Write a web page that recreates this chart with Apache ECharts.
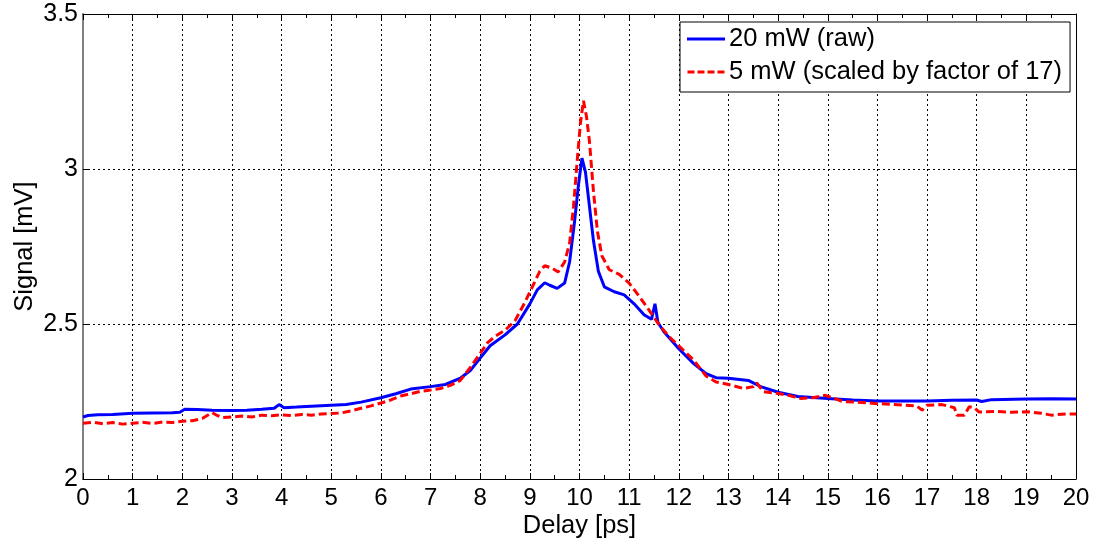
<!DOCTYPE html>
<html><head><meta charset="utf-8">
<script src="https://cdn.jsdelivr.net/npm/echarts@6/dist/echarts.min.js"></script>
<style>html,body{margin:0;padding:0;background:#fff}#c{width:1096px;height:541px}</style>
</head><body><div id="c"></div>
<script>
const xTicks = [0,1,2,3,4,5,6,7,8,9,10,11,12,13,14,15,16,17,18,19,20];
const yTicks = [2, 2.5, 3, 3.5];
const seriesNames = ['20 mW (raw)', '5 mW (scaled by factor of 17)'];

const delay20 = [0,0.1,0.3,0.6,1.0,1.4,1.8,1.95,2.05,2.3,2.6,3.0,3.3,3.6,3.85,3.95,4.05,4.3,4.6,5.0,5.3,5.6,6.0,6.3,6.6,7.0,7.3,7.6,7.8,8.0,8.2,8.5,8.75,9.0,9.15,9.3,9.4,9.55,9.7,9.8,9.9,9.98,10.05,10.12,10.2,10.28,10.38,10.5,10.7,10.9,11.1,11.3,11.45,11.52,11.58,11.7,12.0,12.3,12.55,12.75,13.0,13.4,13.65,14.0,14.4,15.0,15.5,16.0,16.5,17.0,17.5,18.0,18.1,18.3,19.0,19.5,20.0];
const signal20 = [2.200,2.205,2.207,2.208,2.212,2.213,2.214,2.215,2.225,2.224,2.222,2.221,2.222,2.225,2.228,2.240,2.230,2.232,2.235,2.238,2.240,2.248,2.262,2.275,2.290,2.298,2.305,2.325,2.350,2.390,2.430,2.465,2.500,2.565,2.610,2.633,2.625,2.615,2.632,2.700,2.830,2.950,3.035,2.990,2.880,2.770,2.670,2.620,2.604,2.594,2.565,2.530,2.515,2.565,2.505,2.475,2.420,2.372,2.340,2.327,2.325,2.318,2.298,2.280,2.266,2.260,2.255,2.252,2.252,2.252,2.254,2.255,2.250,2.256,2.258,2.259,2.258];

const delay5 = [0,0.2,0.4,0.6,0.8,1.0,1.2,1.4,1.6,1.8,2.0,2.2,2.4,2.6,2.7,2.8,3.0,3.2,3.4,3.6,3.8,4.0,4.2,4.4,4.6,4.8,5.0,5.2,5.4,5.6,5.8,6.0,6.2,6.4,6.6,6.8,7.0,7.2,7.4,7.6,7.8,8.0,8.15,8.3,8.5,8.7,8.9,9.05,9.2,9.3,9.45,9.57,9.7,9.8,9.88,9.95,10.02,10.08,10.14,10.2,10.28,10.36,10.45,10.6,10.8,11.0,11.2,11.4,11.6,11.8,12.0,12.3,12.55,12.75,13.0,13.3,13.5,13.57,13.7,14.0,14.2,14.45,14.7,14.95,15.1,15.3,15.6,16.0,16.3,16.5,16.8,16.9,17.0,17.3,17.55,17.6,17.75,17.85,17.95,18.05,18.4,18.7,19.0,19.3,19.5,19.8,20.0];
const signal5 = [2.180,2.183,2.178,2.182,2.177,2.180,2.183,2.179,2.184,2.182,2.186,2.188,2.195,2.214,2.205,2.198,2.200,2.203,2.200,2.206,2.204,2.207,2.205,2.208,2.206,2.210,2.211,2.213,2.220,2.228,2.236,2.245,2.255,2.268,2.275,2.283,2.287,2.292,2.302,2.318,2.360,2.405,2.440,2.460,2.480,2.510,2.570,2.620,2.670,2.688,2.680,2.668,2.700,2.760,2.880,3.020,3.150,3.220,3.170,3.090,2.930,2.800,2.720,2.675,2.660,2.632,2.590,2.545,2.498,2.460,2.430,2.383,2.332,2.313,2.305,2.292,2.298,2.310,2.282,2.276,2.270,2.260,2.262,2.270,2.262,2.250,2.248,2.243,2.241,2.239,2.235,2.222,2.238,2.240,2.230,2.206,2.206,2.233,2.230,2.216,2.218,2.215,2.217,2.212,2.206,2.210,2.210];

const pairs = (xs, ys) => xs.map((x, i) => [x, ys[i]]);
const FONT = 'Liberation Sans, Arial, sans-serif';
const chart = echarts.init(document.getElementById('c'), null, {renderer: 'canvas'});
const gridLine = {show: true, lineStyle: {color: '#000', type: [2, 3], width: 1}};
const solidIcon = 'path://M0,0H38V3H0Z';
const dashIcon = 'path://M0,0H7V3H0Z M10,0H17V3H10Z M20,0H27V3H20Z M30,0H37V3H30Z';
chart.setOption({
  animation: false,
  backgroundColor: '#fff',
  grid: {left: 83, right: 20, top: 14, bottom: 62, containLabel: false, outerBoundsMode: 'none'},
  legend: {
    orient: 'vertical', left: 680, top: 22,
    data: [{name: seriesNames[0], icon: solidIcon}, {name: seriesNames[1], icon: dashIcon}],
    backgroundColor: '#fff', borderColor: '#000', borderWidth: 1,
    padding: [4, 8, 7, 7], itemGap: 7, itemWidth: 38, itemHeight: 3,
    textStyle: {fontFamily: FONT, fontSize: 25.5, color: '#000', padding: [0, 0, 0, -1]}
  },
  xAxis: [{
    type: 'value', min: xTicks[0], max: xTicks[xTicks.length - 1], interval: 1,
    name: 'Delay [ps]', nameLocation: 'middle', nameGap: 34, nameMoveOverlap: false,
    nameTextStyle: {fontFamily: FONT, fontSize: 25.5, color: '#000'},
    axisLine: {show: true, onZero: false, lineStyle: {color: '#000', width: 1}},
    axisTick: {show: true, inside: true, length: 6, lineStyle: {color: '#000'}},
    minorTick: {show: true, splitNumber: 2, length: 4, lineStyle: {color: '#000'}},
    axisLabel: {fontFamily: FONT, fontSize: 24, color: '#000', margin: 7},
    splitLine: gridLine
  }, {
    type: 'value', position: 'top', min: 0, max: 20, interval: 1,
    axisLine: {show: true, onZero: false, lineStyle: {color: '#000', width: 1}},
    axisTick: {show: true, inside: true, length: 6, lineStyle: {color: '#000'}},
    minorTick: {show: true, splitNumber: 2, length: 4, lineStyle: {color: '#000'}},
    axisLabel: {show: false}, splitLine: {show: false}
  }],
  yAxis: [{
    type: 'value', min: yTicks[0], max: yTicks[yTicks.length - 1], interval: 0.5,
    name: 'Signal [mV]', nameLocation: 'middle', nameGap: 45, nameMoveOverlap: false,
    nameTextStyle: {fontFamily: FONT, fontSize: 25.5, color: '#000'},
    axisLine: {show: true, onZero: false, lineStyle: {color: '#808080', width: 2}},
    axisTick: {show: true, inside: true, length: 6, lineStyle: {color: '#000'}},
    axisLabel: {fontFamily: FONT, fontSize: 25, color: '#000', margin: 5,
      formatter: v => String(v)},
    splitLine: gridLine
  }, {
    type: 'value', position: 'right', min: 2, max: 3.5, interval: 0.5,
    axisLine: {show: true, onZero: false, lineStyle: {color: '#000', width: 1}},
    axisTick: {show: true, inside: true, length: 6, lineStyle: {color: '#000'}},
    axisLabel: {show: false}, splitLine: {show: false}
  }],
  series: [{
    name: seriesNames[0], type: 'line', showSymbol: false, symbol: 'none',
    data: pairs(delay20, signal20),
    lineStyle: {color: '#0000ff', width: 3}, itemStyle: {color: '#0000ff'}, z: 3
  }, {
    name: seriesNames[1], type: 'line', showSymbol: false, symbol: 'none',
    data: pairs(delay5, signal5),
    lineStyle: {color: '#ff0000', width: 3, type: [8, 4]}, itemStyle: {color: '#ff0000'}, z: 4
  }]
});
</script></body></html>
